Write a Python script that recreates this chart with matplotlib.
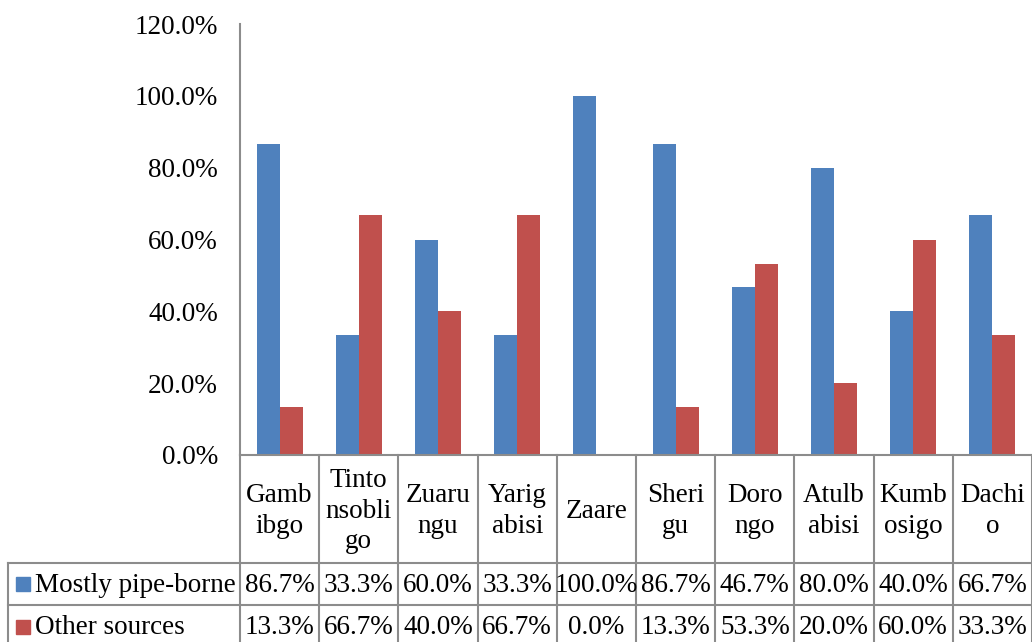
import numpy as np
import matplotlib.pyplot as plt
from matplotlib.transforms import blended_transform_factory

villages = ["Gamb\nibgo", "Tinto\nnsobli\ngo", "Zuaru\nngu", "Yarig\nabisi", "Zaare",
            "Sheri\ngu", "Doro\nngo", "Atulb\nabisi", "Kumb\nosigo", "Dachi\no"]
pipe_borne = [86.7, 33.3, 60.0, 33.3, 100.0, 86.7, 46.7, 80.0, 40.0, 66.7]
other_sources = [13.3, 66.7, 40.0, 66.7, 0.0, 13.3, 53.3, 20.0, 60.0, 33.3]
series_names = ["Mostly pipe-borne", "Other sources"]
yticks = [0, 20, 40, 60, 80, 100, 120]

BLUE = "#4F81BD"
RED = "#C0504D"
GRID = "#8C8C8C"
W, H = 1032, 642

plt.rcParams["font.family"] = ["Liberation Serif", "DejaVu Serif"]
plt.rcParams["font.size"] = 19.5

fig = plt.figure(figsize=(W / 100, H / 100), dpi=100)
ax = fig.add_axes([240 / W, 1 - 455 / H, (W - 240) / W, (455 - 24) / H])


def fy(py):
    # pixel row (from top) -> figure fraction
    return 1 - py / H


x = np.arange(len(villages))
bw = 0.29
ax.bar(x - bw / 2, pipe_borne, bw, color=BLUE)
ax.bar(x + bw / 2, other_sources, bw, color=RED)

ax.set_xlim(-0.5, len(villages) - 0.5)
ax.set_ylim(0, 120)
ax.set_yticks(yticks)
ax.set_yticklabels([f"{v:.1f}%" for v in yticks])
ax.tick_params(axis="y", length=0, pad=16)
ax.set_xticks([])
for s in ["top", "right"]:
    ax.spines[s].set_visible(False)
for s in ["left", "bottom"]:
    ax.spines[s].set_color(GRID)
    ax.spines[s].set_linewidth(1.5)

# data table under the plot
tr = blended_transform_factory(ax.transData, fig.transFigure)
row_top, row1, row2, row_bot = 455, 563, 605, 642
for b in np.arange(-0.5, len(villages) + 0.5, 1.0):
    ax.plot([b, b], [fy(row_top), fy(row_bot + 5)], color=GRID, lw=1.5,
            transform=tr, clip_on=False)
for py in (row1, row2):
    fig.add_artist(plt.Line2D([8 / W, 1], [fy(py), fy(py)], color=GRID, lw=1.5))
fig.add_artist(plt.Line2D([8 / W, 8 / W], [fy(row1), 0], color=GRID, lw=1.5))

for i, name in enumerate(villages):
    ax.text(i, fy((row_top + row1) / 2 + 2), name, transform=tr, ha="center",
            va="center", linespacing=1.3)
    ax.text(i, fy((row1 + row2) / 2 + 1), f"{pipe_borne[i]:.1f}%", transform=tr,
            ha="center", va="center")
    ax.text(i, fy((row2 + row_bot) / 2 + 4), f"{other_sources[i]:.1f}%", transform=tr,
            ha="center", va="center")

for py, name, col in [((row1 + row2) / 2, series_names[0], BLUE),
                      ((row2 + row_bot) / 2 + 3, series_names[1], RED)]:
    fig.patches.append(plt.Rectangle((16 / W, fy(py + 7)), 14 / W, 14 / H,
                                     color=col, transform=fig.transFigure))
    fig.text(35 / W, fy(py + 1), name, ha="left", va="center")

fig.savefig("out.png", dpi=100)
